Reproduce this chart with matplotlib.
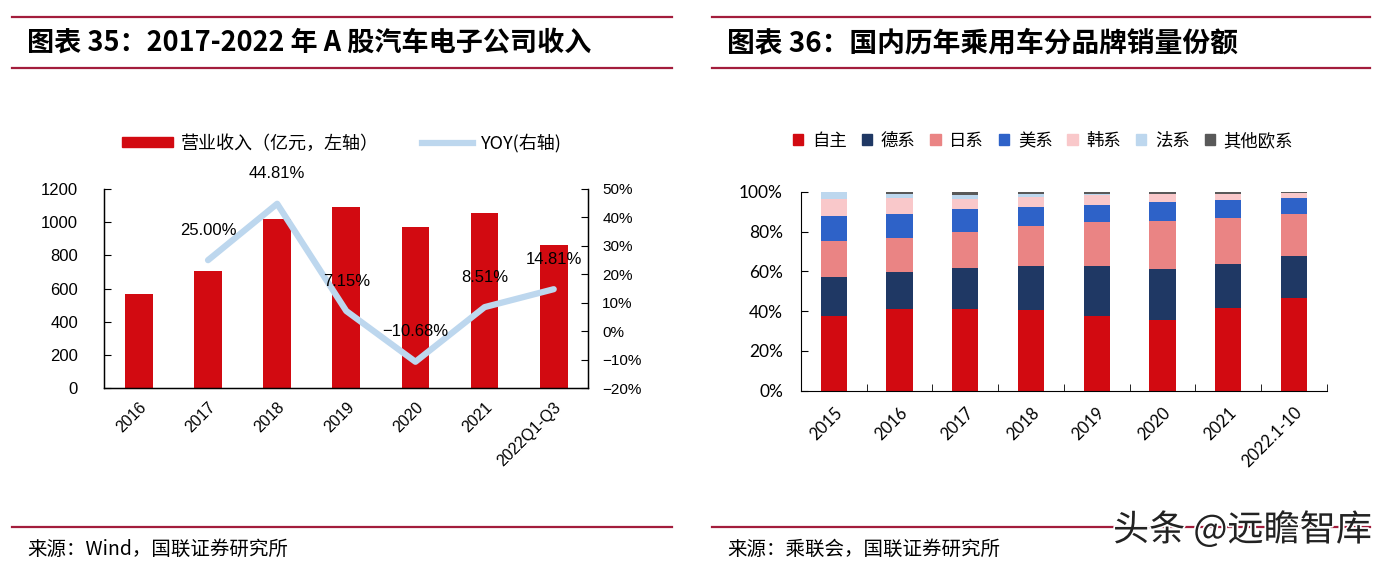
import matplotlib
matplotlib.use('Agg')
import matplotlib.pyplot as plt
from matplotlib.lines import Line2D
from matplotlib.patches import Patch
import matplotlib.ticker as mticker
import matplotlib.patheffects as pe

plt.rcParams['font.family'] = ['Liberation Sans', 'Noto Sans CJK SC']
plt.rcParams['axes.unicode_minus'] = False

# ---------------- data ----------------
rev_years = ['2016', '2017', '2018', '2019', '2020', '2021', '2022Q1-Q3']
revenue = [566, 706, 1020, 1092, 972, 1056, 863]
yoy_years = ['2017', '2018', '2019', '2020', '2021', '2022Q1-Q3']
yoy = [25.00, 44.81, 7.15, -10.68, 8.51, 14.81]

share_years = ['2015', '2016', '2017', '2018', '2019', '2020', '2021', '2022.1-10']
brands = ['自主', '德系', '日系', '美系', '韩系', '法系', '其他欧系']
zizhu = [37.5, 40.9, 41.2, 40.7, 37.7, 35.6, 41.4, 46.7]
dexi = [19.8, 18.9, 20.4, 22.2, 24.9, 25.5, 22.1, 21.1]
rixi = [17.7, 16.9, 18.4, 19.9, 22.4, 24.4, 23.1, 21.0]
meixi = [12.9, 11.9, 11.2, 9.7, 8.2, 9.2, 9.2, 8.2]
hanxi = [8.6, 8.0, 5.0, 5.0, 5.3, 4.1, 3.0, 2.2]
faxi = [3.2, 2.2, 2.3, 1.3, 0.3, 0.2, 0.2, 0.1]
qita = [0.3, 1.2, 1.5, 1.2, 1.2, 1.0, 1.0, 0.7]
shares = [zizhu, dexi, rixi, meixi, hanxi, faxi, qita]

# ---------------- style ----------------
W, H = 1387, 566
RED = '#D20A11'
LBLUE = '#BDD7EE'
HEAD = '#A31D3C'
brand_colors = ['#D20A11', '#1F3864', '#EA8484', '#2E62C8', '#F9C8CA', '#BDD7EE', '#595959']
CJK = ['Noto Sans CJK SC', 'Liberation Sans']

fig = plt.figure(figsize=(W / 100, H / 100), dpi=100)
fig.patch.set_facecolor('white')


def fx(px):
    return px / W


def fy(py):
    return 1 - py / H


# header / footer rules
for x0, x1 in [(12, 672), (712, 1370)]:
    for y in (17, 68, 527):
        fig.add_artist(Line2D([fx(x0), fx(x1)], [fy(y), fy(y)], color=HEAD, lw=1.6))

fig.text(fx(27), fy(43), '图表 35：2017-2022 年 A 股汽车电子公司收入', family=CJK,
         fontsize=19.5, fontweight='bold', va='center', ha='left')
fig.text(fx(727), fy(43), '图表 36：国内历年乘用车分品牌销量份额', family=CJK,
         fontsize=20, fontweight='bold', va='center', ha='left')
fig.text(fx(27), fy(549), '来源：Wind，国联证券研究所', family=CJK, fontsize=14,
         va='center', ha='left')
fig.text(fx(727), fy(549), '来源：乘联会，国联证券研究所', family=CJK, fontsize=14,
         va='center', ha='left')
fig.text(fx(1113), fy(530), '头条 @远瞻智库', family=CJK, fontsize=26, color='#222222',
         va='center', ha='left',
         path_effects=[pe.withStroke(linewidth=2.5, foreground='white')])

# ---------------- left chart ----------------
ax = fig.add_axes([fx(104.3), fy(388.3), fx(588.3) - fx(104.3), (388.3 - 189) / H])
x = list(range(len(rev_years)))
ax.bar(x, revenue, width=0.4, color=RED, zorder=2)
ax.set_xlim(-0.5, len(rev_years) - 0.5)
ax.set_ylim(0, 1200)
ax.set_yticks(range(0, 1201, 200))
ax.spines['top'].set_visible(False)
for s in ('left', 'bottom', 'right'):
    ax.spines[s].set_linewidth(1.0)
ax.tick_params(axis='y', direction='in', length=5, pad=19, labelsize=12)
ax.set_xticks(x)
ax.set_xticklabels(rev_years, rotation=45, ha='right', va='top', rotation_mode='anchor',
                   fontsize=11.5)
ax.tick_params(axis='x', length=0, pad=8)

ax2 = ax.twinx()
xi = [rev_years.index(y) for y in yoy_years]
yoy_frac = [v / 100 for v in yoy]
ax2.plot(xi, yoy_frac, color=LBLUE, lw=4.5, solid_capstyle='round', solid_joinstyle='round',
         zorder=3)
ax2.set_ylim(-0.2, 0.5)
ax2.set_yticks([i / 10 for i in range(-2, 6)])
ax2.yaxis.set_major_formatter(mticker.FuncFormatter(lambda v, p: f'{v * 100:.0f}%'.replace('-', '−')))
ax2.tick_params(axis='y', direction='in', length=5, pad=10, labelsize=11)
ax2.spines['top'].set_visible(False)
for xv, v in zip(xi, yoy):
    ax2.annotate(f'{v:.2f}%'.replace('-', '−'), (xv, v / 100), xytext=(0, 21.5),
                 textcoords='offset points', ha='center', va='center', fontsize=12,
                 zorder=4)

handles = [Patch(color=RED), Line2D([0], [0], color=LBLUE, lw=4.5)]
ax.legend(handles, ['营业收入（亿元，左轴）', 'YOY(右轴)'], ncol=2,
          loc='center left', bbox_to_anchor=(fx(122), fy(143)),
          bbox_transform=fig.transFigure, frameon=False, borderpad=0, borderaxespad=0,
          handlelength=2.85, handleheight=0.45, handletextpad=0.4, columnspacing=2.4,
          prop={'family': CJK, 'size': 13})

# ---------------- right chart ----------------
bx = fig.add_axes([fx(801), fy(390.7), fx(1326.7) - fx(801), (390.7 - 191.7) / H])
xs = list(range(len(share_years)))
bottom = [0.0] * len(share_years)
for name, vals, col in zip(brands, shares, brand_colors):
    v = [a / 100 for a in vals]
    bx.bar(xs, v, bottom=[b / 100 for b in bottom], width=0.4, color=col, label=name,
           zorder=2)
    bottom = [b + a for b, a in zip(bottom, vals)]
bx.set_xlim(-0.5, len(share_years) - 0.5)
bx.set_ylim(0, 1.0)
bx.set_yticks([i / 5 for i in range(6)])
bx.yaxis.set_major_formatter(mticker.FuncFormatter(lambda v, p: f'{v * 100:.0f}%'))
bx.spines['top'].set_visible(False)
bx.spines['right'].set_visible(False)
bx.tick_params(axis='y', direction='in', length=5, pad=13, labelsize=12.5)
for lab in bx.get_yticklabels():
    lab.set_family(['Lato', 'Liberation Sans'])
bx.set_xticks(xs)
bx.set_xticklabels(share_years, rotation=45, ha='right', va='top', rotation_mode='anchor',
                   fontsize=12, family=['Lato', 'Liberation Sans'])
bx.tick_params(axis='x', which='major', length=0, pad=10)
bx.set_xticks([i - 0.5 for i in range(len(share_years) + 1)], minor=True)
bx.tick_params(axis='x', which='minor', direction='in', length=5)

bh = [Patch(color=c) for c in brand_colors]
bx.legend(bh, brands, ncol=7, loc='center left', bbox_to_anchor=(fx(793), fy(141)),
          bbox_transform=fig.transFigure, frameon=False, borderpad=0, borderaxespad=0,
          handlelength=0.6, handleheight=0.6, handletextpad=0.5, columnspacing=0.85,
          prop={'family': CJK, 'size': 12.5})

fig.savefig('out.png', dpi=100, facecolor='white')
